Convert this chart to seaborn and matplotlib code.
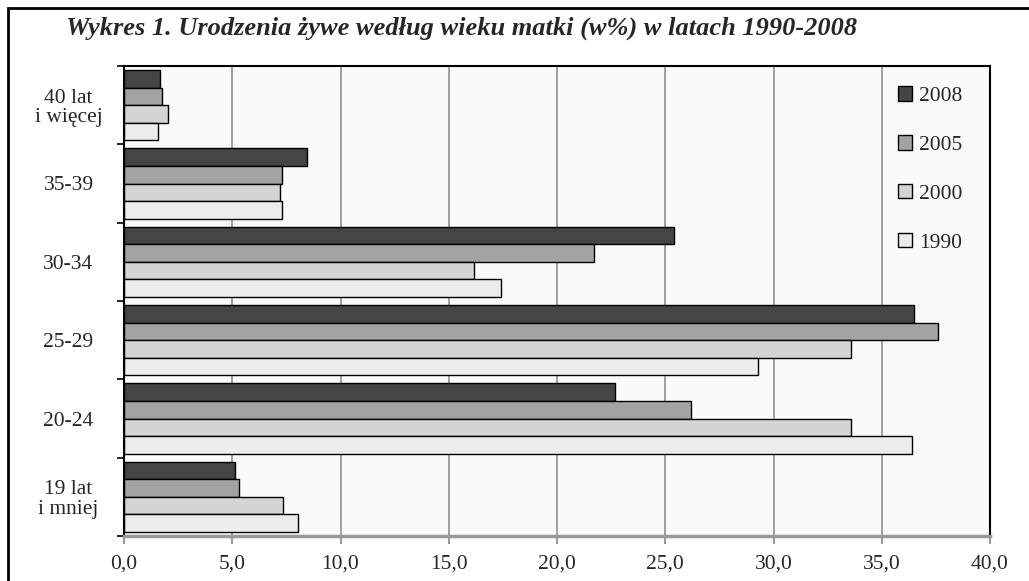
import matplotlib
matplotlib.use("Agg")
import matplotlib.pyplot as plt
import seaborn as sns
import pandas as pd
from matplotlib.patches import Rectangle
from matplotlib.ticker import FuncFormatter, FixedLocator

categories = ["40 lat\ni więcej", "35-39", "30-34", "25-29", "20-24", "19 lat\ni mniej"]
years = ["2008", "2005", "2000", "1990"]
v2008 = [1.65, 8.45, 25.4, 36.5, 22.7, 5.15]
v2005 = [1.75, 7.3, 21.7, 37.6, 26.2, 5.3]
v2000 = [2.05, 7.2, 16.15, 33.6, 33.6, 7.35]
v1990 = [1.55, 7.3, 17.4, 29.3, 36.4, 8.05]
colors = ["#454545", "#a3a3a3", "#d4d4d4", "#ececec"]
xticks = [0, 5, 10, 15, 20, 25, 30, 35, 40]

rows = []
for yr, vals in zip(years, [v2008, v2005, v2000, v1990]):
    for c, v in zip(categories, vals):
        rows.append({"age": c, "year": yr, "value": v})
df = pd.DataFrame(rows)

sns.set_style("white")
plt.rcParams["font.family"] = ["Liberation Serif", "DejaVu Serif"]

fig = plt.figure(figsize=(10.29, 5.81), dpi=100)
ax = fig.add_axes([124 / 1029, 45 / 581, 866 / 1029, 470 / 581])
ax.set_facecolor("#fafafa")

sns.barplot(data=df, y="age", x="value", hue="year", hue_order=years,
            order=categories, palette=colors, orient="h", width=0.9,
            edgecolor="black", linewidth=1.0, ax=ax, legend=True)

ax.set_xlim(0, 40)
ax.set_ylim(5.5, -0.5)
ax.set_xticks(xticks)
ax.xaxis.set_major_formatter(FuncFormatter(lambda v, p: f"{v:.1f}".replace(".", ",")))
ax.set_axisbelow(True)
ax.grid(axis="x", color="#999999", linewidth=1.3)
ax.grid(axis="y", visible=False)
ax.set_xlabel("")
ax.set_ylabel("")

ax.tick_params(axis="x", which="major", length=6, width=1.5, color="#999999",
               labelsize=15.5, pad=7, bottom=True)
ax.tick_params(axis="y", which="major", length=0, labelsize=15.5, pad=40)
ax.yaxis.set_minor_locator(FixedLocator([i - 0.5 for i in range(7)]))
ax.tick_params(axis="y", which="minor", length=5, width=1.2, color="black", left=True)
for lbl in ax.get_yticklabels():
    lbl.set_horizontalalignment("center")
    lbl.set_linespacing(1.05)

for s in ["left", "top", "right"]:
    ax.spines[s].set_color("black")
    ax.spines[s].set_linewidth(1.5)
ax.spines["bottom"].set_color("#999999")
ax.spines["bottom"].set_linewidth(2.5)

handles, labels = ax.get_legend_handles_labels()
leg = ax.legend(handles, labels, loc="upper left", bbox_to_anchor=(0.8835, 0.975),
                frameon=False, fontsize=15.5, handlelength=0.65, handleheight=0.65,
                handletextpad=0.35, labelspacing=1.35, borderaxespad=0)

fig.text(66 / 1029, 1 - 28 / 581, "Wykres 1. Urodzenia żywe według wieku matki (w%) w latach 1990-2008",
         fontsize=19, fontweight="bold", fontstyle="italic", va="center", ha="left")

fig.add_artist(Rectangle((8 / 1029, -0.1), 1.2, 1 - 8 / 581 + 0.1, transform=fig.transFigure,
                         fill=False, edgecolor="black", linewidth=2.0))

fig.savefig("out.png", dpi=100)
